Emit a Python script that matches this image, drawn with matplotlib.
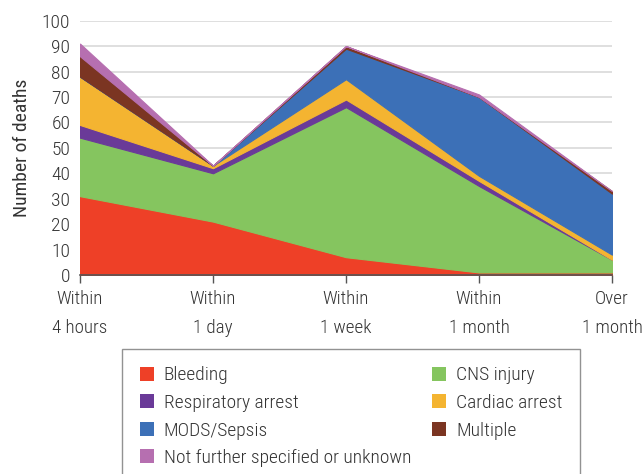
import numpy as np
import matplotlib
matplotlib.use("Agg")
import matplotlib.pyplot as plt
from matplotlib.patches import Patch

plt.rcParams['font.family'] = ['Roboto Condensed', 'DejaVu Sans']
plt.rcParams['font.weight'] = 'light'

# categories (time since injury)
periods = ["Within\n4 hours", "Within\n1 day", "Within\n1 week", "Within\n1 month", "Over\n1 month"]

# deaths per cause
bleeding = [31, 21, 7, 1, 1]
cns_injury = [23, 19, 59, 34, 5]
respiratory = [5, 2, 3, 2, 0]
cardiac = [19, 1, 8, 2, 2]
mods_sepsis = [0, 0, 12, 31, 24]
multiple = [8, 0, 1, 0, 1]
not_specified = [5, 0, 0, 1, 0]

series = [
    ("Bleeding", bleeding, "#ee4027"),
    ("CNS injury", cns_injury, "#85c55f"),
    ("Respiratory arrest", respiratory, "#6a3a98"),
    ("Cardiac arrest", cardiac, "#f4b431"),
    ("MODS/Sepsis", mods_sepsis, "#3c70b7"),
    ("Multiple", multiple, "#7b3522"),
    ("Not further specified or unknown", not_specified, "#b66fb0"),
]

fig = plt.figure(figsize=(6.43, 4.74), dpi=100)
ax = fig.add_axes([80/643, 1-275/474, (612-80)/643, (275-20.7)/474])

x = np.arange(len(periods))
base = np.zeros(len(periods))
for name, vals, col in series:
    top = base + np.array(vals, dtype=float)
    ax.fill_between(x, base, top, facecolor=col, edgecolor=col, linewidth=0.8, zorder=3)
    base = top

ax.set_xlim(0, len(periods) - 1)
ax.set_ylim(0, 100)
ax.set_yticks(range(0, 101, 10))
ax.yaxis.grid(True, color="#d9d9d9", linewidth=1.2, zorder=0)
ax.set_axisbelow(True)

for s in ["top", "right", "left"]:
    ax.spines[s].set_visible(False)
ax.spines["bottom"].set_color("#555555")
ax.spines["bottom"].set_linewidth(1.2)
ax.spines["bottom"].set_zorder(4)

ax.set_xticks(x)
ax.set_xticklabels(periods, fontsize=13.7, color="#333333", linespacing=1.75)
ax.tick_params(axis="x", length=6, width=1.0, color="#555555", pad=5)
ax.tick_params(axis="y", length=0, pad=7, labelsize=14, labelcolor="#333333")
ax.set_ylabel("Number of deaths", fontsize=14, color="#333333", labelpad=8)

# legend laid out row by row like the original
order = [0, 2, 4, 6, 1, 3, 5]
handles = [Patch(facecolor=series[i][2], edgecolor="none") for i in order]
labels = [series[i][0] for i in order]
fig.legend(handles, labels, loc="upper left", bbox_to_anchor=(122/643, 1-349/474),
           borderaxespad=0, ncol=2, frameon=True, fancybox=False, edgecolor="#777777",
           fontsize=14, handlelength=0.75, handleheight=0.75, handletextpad=0.5,
           columnspacing=1.05, labelspacing=0.49, borderpad=0.9,
           labelcolor="#333333")

fig.savefig("out.png", dpi=100)
